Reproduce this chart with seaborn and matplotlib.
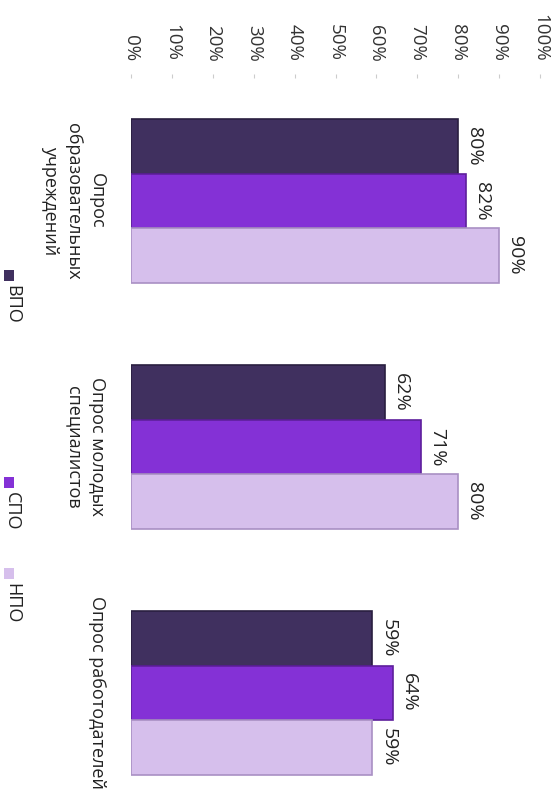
import matplotlib
matplotlib.use("Agg")
import matplotlib.pyplot as plt
import seaborn as sns
import pandas as pd
from matplotlib.patches import Rectangle

# --- data ---
categories = ["Опрос\nобразовательных\nучреждений",
              "Опрос молодых\nспециалистов",
              "Опрос работодателей"]
series = ["ВПО", "СПО", "НПО"]
vpo = [80, 62, 59]
spo = [82, 71, 64]
npo = [90, 80, 59]
ticks = list(range(0, 101, 10))
tick_labels = [f"{t}%" for t in ticks]

colors = {"ВПО": "#40305f", "СПО": "#8431d6", "НПО": "#d6bfec"}
edges = {"ВПО": "#2a1f40", "СПО": "#5e1f9c", "НПО": "#a990c4"}

df = pd.DataFrame({
    "cat": categories * 3,
    "series": [s for s in series for _ in categories],
    "value": vpo + spo + npo,
})

sns.set_theme(style="white")
plt.rcParams["font.family"] = ["Open Sans", "DejaVu Sans"]

fig = plt.figure(figsize=(5.55, 8.01), dpi=100)
W, H = 555, 801
# axes: 0% at x=131, 100% at x=540, top edge at y=78
ax = fig.add_axes([131 / W, 0, (540 - 131) / W, (801 - 78) / H])

sns.barplot(data=df, y="cat", x="value", hue="series", order=categories,
            hue_order=series, palette=colors, orient="h", width=0.665,
            saturation=1, ax=ax, legend=False)

# dark edges per series
n = len(categories)
for i, patch in enumerate(ax.patches[:3 * n]):
    patch.set_edgecolor(edges[series[i // n]])
    patch.set_linewidth(1.2)

# value labels
for i, patch in enumerate(ax.patches[:3 * n]):
    val = df["value"].iloc[i]
    ax.annotate(f"{val}%", (patch.get_width(), patch.get_y() + patch.get_height() / 2),
                xytext=(5, 0), textcoords="offset points", rotation=270,
                ha="left", va="center", fontsize=14, color="#222222")

ax.set_xlim(0, 100)
ax.set_ylim(2.44, -0.5)
ax.set_xticks(ticks)
ax.set_xticklabels(tick_labels, rotation=270, fontsize=13.5, color="#333333")
ax.xaxis.tick_top()
ax.tick_params(axis="x", top=True, bottom=False, length=3, pad=9,
               color="#cccccc", width=0.8)
ax.tick_params(axis="y", left=False, length=0, pad=18)
for lbl in ax.get_yticklabels():
    lbl.set_rotation(270)
    lbl.set_multialignment("center")
    lbl.set_linespacing(1.4)
    lbl.set_fontsize(13)
    lbl.set_color("#222222")
    lbl.set_va("center")
ax.set_xlabel("")
ax.set_ylabel("")
for sp in ax.spines.values():
    sp.set_visible(False)

# legend, drawn rotated like the rest of the chart
legend_y = [270, 477, 568]
for s, y0 in zip(series, legend_y):
    fig.patches.append(Rectangle((4 / W, 1 - (y0 + 11) / H), 10 / W, 11 / H,
                                 transform=fig.transFigure,
                                 facecolor=colors[s], edgecolor="none"))
    fig.text(12 / W, 1 - (y0 + 15) / H, s, rotation=270, ha="center", va="top",
             fontsize=13, color="#222222")

fig.savefig("out.png", dpi=100)
